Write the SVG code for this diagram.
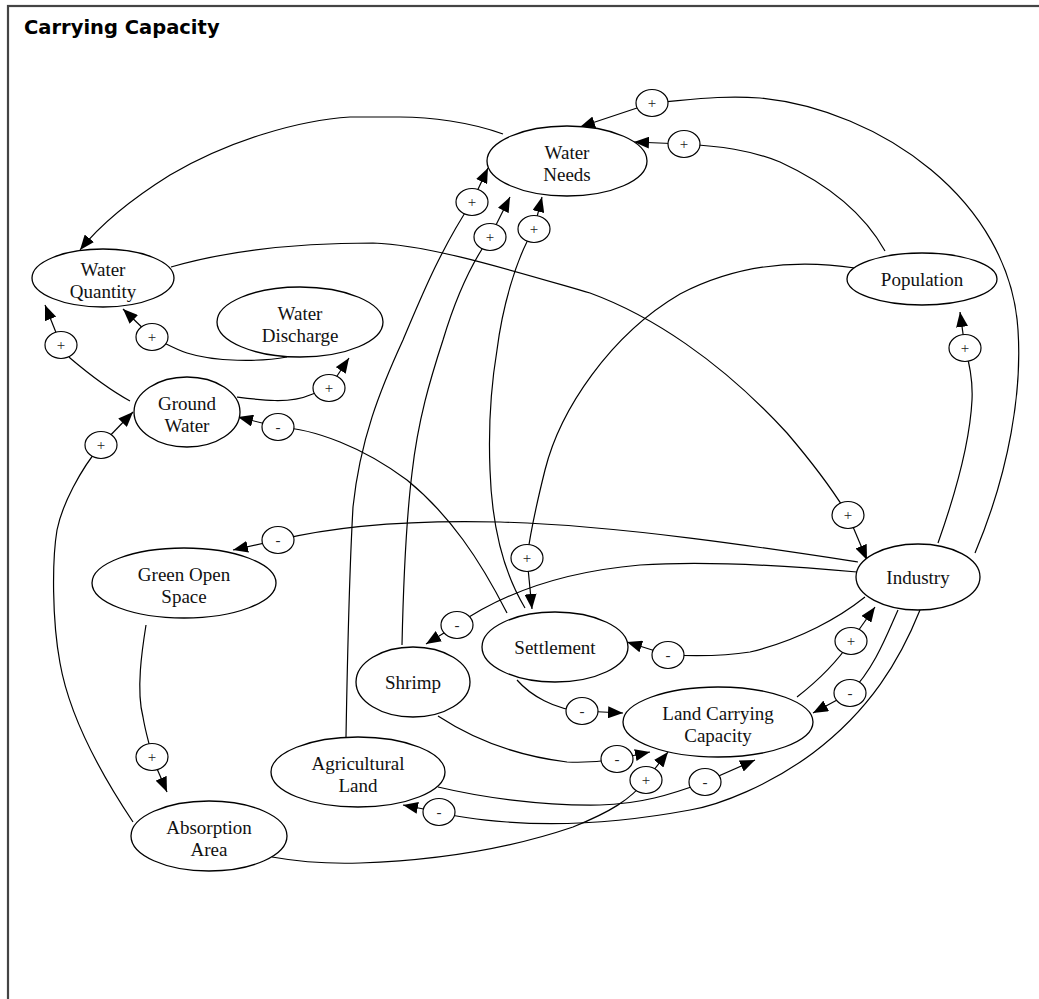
<svg xmlns="http://www.w3.org/2000/svg" width="1039" height="999" viewBox="0 0 1039 999">
<defs>
<style>
.frame{fill:#fff;stroke:#444;stroke-width:2.2}
.title{font-family:"DejaVu Sans",Verdana,sans-serif;font-weight:bold;font-size:19.5px;fill:#000}
.node ellipse{fill:#fff;stroke:#000;stroke-width:1.3}
.node text{font-family:"Liberation Serif","Times New Roman",serif;font-size:19px;fill:#111;text-anchor:middle}
.edge{fill:none;stroke:#000;stroke-width:1.2}
.arr{fill:none;stroke:#000;stroke-width:1.2;marker-end:url(#ah)}
.sign ellipse{fill:#fff;stroke:#000;stroke-width:1.2}
.sign text{font-family:"Liberation Serif","Times New Roman",serif;font-size:15px;fill:#222;text-anchor:middle}
</style>
<marker id="ah" markerUnits="userSpaceOnUse" markerWidth="16" markerHeight="12" refX="15" refY="6" orient="auto">
<path d="M0,0 L15,6 L0,12 Z" fill="#000"/>
</marker>
</defs>
<rect class="frame" x="8" y="6" width="1040" height="1000"/>
<text class="title" x="24" y="34">Carrying Capacity</text>

<g id="connectors">
<!-- 1 Industry -> Water Needs (+) -->
<path class="edge" d="M975,553 C1010,470 1022,390 1018,330 C1010,200 880,110 760,98 C720,95 690,100 652,103"/>
<path class="arr" d="M652,103 L580,127"/>
<!-- 2 Population -> Water Needs (+) -->
<path class="edge" d="M885,251 C865,215 830,185 780,162 C750,150 720,146 684,144"/>
<path class="arr" d="M684,144 L634,142"/>
<!-- 3 Water Needs -> Water Quantity -->
<path class="arr" d="M503,134 C470,122 430,117 400,117 L350,117 C300,120 230,140 170,175 C130,200 100,225 80,250"/>
<!-- 4 Water Quantity -> Industry (+) -->
<path class="edge" d="M171,267 C230,250 300,243 373,243 C430,245 510,270 590,293 C650,315 720,360 787,433 C810,460 830,485 848,515"/>
<path class="arr" d="M848,515 L867,560"/>
<!-- 5 Water Discharge -> Water Quantity (+) -->
<path class="edge" d="M287,357 C260,362 215,362 187,353 C175,349 165,343 152,337"/>
<path class="arr" d="M152,337 L123,309"/>
<!-- 6 Ground Water -> Water Quantity (+) -->
<path class="edge" d="M130,401 C110,390 90,375 70,358 L61,345"/>
<path class="arr" d="M61,345 L45,305"/>
<!-- 7 Ground Water -> Water Discharge (+) -->
<path class="edge" d="M237,397 C260,400 290,404 310,395 L329,388"/>
<path class="arr" d="M329,388 L349,358"/>
<!-- 8 Settlement -> Ground Water (-) -->
<path class="edge" d="M507,613 C480,560 450,515 407,480 C380,460 360,450 340,442 C320,434 300,428 278,427"/>
<path class="arr" d="M278,427 L238,417"/>
<!-- 9 Absorption Area -> Ground Water (+) -->
<path class="edge" d="M133,822 C105,780 70,720 60,663 C52,620 52,560 57,530 C62,505 80,470 101,445"/>
<path class="arr" d="M101,445 L133,412"/>
<!-- 10 Industry -> Green Open Space (-) -->
<path class="edge" d="M858,562 C780,550 620,525 500,522 C420,520 340,525 278,540"/>
<path class="arr" d="M278,540 L233,550"/>
<!-- 11 Green Open Space -> Absorption Area (+) -->
<path class="edge" d="M146,625 C142,650 136,690 143,717 C146,735 150,745 152,757"/>
<path class="arr" d="M152,757 L167,792"/>
<!-- 12 Population -> Settlement (+) -->
<path class="edge" d="M855,268 C790,258 730,268 680,294 C610,335 560,410 545,470 C535,510 530,535 527,558"/>
<path class="arr" d="M527,558 L532,609"/>
<!-- 13 Settlement -> Water Needs (+) -->
<path class="edge" d="M525,608 C505,575 492,530 490,470 C488,420 492,380 497,350 C502,310 515,260 534,229"/>
<path class="arr" d="M534,229 L542,197"/>
<!-- 14 Shrimp -> Water Needs (+) -->
<path class="edge" d="M402,645 C403,600 405,530 412,473 C418,420 430,380 443,340 C455,300 470,265 490,237"/>
<path class="arr" d="M490,237 L510,197"/>
<!-- 15 Agricultural Land -> Water Needs (+) -->
<path class="edge" d="M346,737 C347,680 350,560 353,507 C360,440 380,390 403,340 C420,300 440,250 472,202"/>
<path class="arr" d="M472,202 L488,168"/>
<!-- 16 Industry -> Settlement (-) -->
<path class="edge" d="M865,597 C840,617 800,640 750,652 C720,657 690,656 668,655"/>
<path class="arr" d="M668,655 L627,642"/>
<!-- 17 Industry -> Shrimp (-) -->
<path class="edge" d="M857,572 C780,565 700,561 640,565 C560,572 500,595 457,625"/>
<path class="arr" d="M457,625 L426,644"/>
<!-- 18 Land Carrying Capacity -> Industry (+) -->
<path class="edge" d="M797,697 C815,683 835,665 851,641"/>
<path class="arr" d="M851,641 L875,607"/>
<!-- 19 Industry -> Land Carrying Capacity (-) -->
<path class="edge" d="M898,610 C888,632 875,668 850,693"/>
<path class="arr" d="M850,693 L813,713"/>
<!-- 20 Industry -> Agricultural Land (-) -->
<path class="edge" d="M920,610 C900,660 870,710 813,753 C770,785 720,805 690,810 C620,823 560,826 507,822 C480,820 460,818 439,812"/>
<path class="arr" d="M439,812 L403,805"/>
<!-- 21 Settlement -> Land Carrying Capacity (-) -->
<path class="edge" d="M517,680 C530,695 555,710 582,711"/>
<path class="arr" d="M582,711 L623,713"/>
<!-- 22 Shrimp -> Land Carrying Capacity (-) -->
<path class="edge" d="M438,716 C470,737 510,755 567,762 C590,763 605,761 617,759"/>
<path class="arr" d="M617,759 L650,752"/>
<!-- 23 Absorption Area -> Land Carrying Capacity (+) -->
<path class="edge" d="M272,857 C300,862 330,864 360,863 C450,860 520,845 573,827 C610,812 630,800 646,780"/>
<path class="arr" d="M646,780 L668,752"/>
<!-- 24 Agricultural Land -> Land Carrying Capacity (-) -->
<path class="edge" d="M438,787 C480,797 540,806 600,805 C640,804 670,795 705,782"/>
<path class="arr" d="M705,782 L755,760"/>
<!-- 25 Industry -> Population (+) -->
<path class="edge" d="M938,543 C955,495 970,440 972,400 C973,380 970,365 965,348"/>
<path class="arr" d="M965,348 L960,312"/>

<g class="sign">
<ellipse cx="652" cy="103" rx="16" ry="13.5"/><text x="652" y="108">+</text>
<ellipse cx="684" cy="144" rx="16" ry="13.5"/><text x="684" y="149">+</text>
<ellipse cx="848" cy="515" rx="16" ry="13.5"/><text x="848" y="520">+</text>
<ellipse cx="152" cy="337" rx="16" ry="13.5"/><text x="152" y="342">+</text>
<ellipse cx="61" cy="345" rx="16" ry="13.5"/><text x="61" y="350">+</text>
<ellipse cx="329" cy="388" rx="16" ry="13.5"/><text x="329" y="393">+</text>
<ellipse cx="278" cy="427" rx="16" ry="13.5"/><text x="278" y="432">-</text>
<ellipse cx="101" cy="445" rx="16" ry="13.5"/><text x="101" y="450">+</text>
<ellipse cx="278" cy="540" rx="16" ry="13.5"/><text x="278" y="545">-</text>
<ellipse cx="152" cy="757" rx="16" ry="13.5"/><text x="152" y="762">+</text>
<ellipse cx="527" cy="558" rx="16" ry="13.5"/><text x="527" y="563">+</text>
<ellipse cx="534" cy="229" rx="16" ry="13.5"/><text x="534" y="234">+</text>
<ellipse cx="490" cy="237" rx="16" ry="13.5"/><text x="490" y="242">+</text>
<ellipse cx="472" cy="202" rx="16" ry="13.5"/><text x="472" y="207">+</text>
<ellipse cx="668" cy="655" rx="16" ry="13.5"/><text x="668" y="660">-</text>
<ellipse cx="457" cy="625" rx="16" ry="13.5"/><text x="457" y="630">-</text>
<ellipse cx="851" cy="641" rx="16" ry="13.5"/><text x="851" y="646">+</text>
<ellipse cx="850" cy="693" rx="16" ry="13.5"/><text x="850" y="698">-</text>
<ellipse cx="439" cy="812" rx="16" ry="13.5"/><text x="439" y="817">-</text>
<ellipse cx="582" cy="711" rx="16" ry="13.5"/><text x="582" y="716">-</text>
<ellipse cx="617" cy="759" rx="16" ry="13.5"/><text x="617" y="764">-</text>
<ellipse cx="646" cy="780" rx="16" ry="13.5"/><text x="646" y="785">+</text>
<ellipse cx="705" cy="782" rx="16" ry="13.5"/><text x="705" y="787">-</text>
<ellipse cx="965" cy="348" rx="16" ry="13.5"/><text x="965" y="353">+</text>
</g>
</g>

<g id="water-needs" class="node"><ellipse cx="567" cy="161" rx="80" ry="35"/><text x="567" y="159">Water</text><text x="567" y="181">Needs</text></g>
<g id="water-quantity" class="node"><ellipse cx="103" cy="278" rx="71" ry="29"/><text x="103" y="276">Water</text><text x="103" y="298">Quantity</text></g>
<g id="water-discharge" class="node"><ellipse cx="300" cy="322" rx="83" ry="35"/><text x="300" y="320">Water</text><text x="300" y="342">Discharge</text></g>
<g id="ground-water" class="node"><ellipse cx="187" cy="412" rx="53" ry="35"/><text x="187" y="410">Ground</text><text x="187" y="432">Water</text></g>
<g id="population" class="node"><ellipse cx="922" cy="279" rx="75" ry="26"/><text x="922" y="286">Population</text></g>
<g id="industry" class="node"><ellipse cx="918" cy="577" rx="62" ry="33"/><text x="918" y="584">Industry</text></g>
<g id="green-open-space" class="node"><ellipse cx="184" cy="583" rx="92" ry="35"/><text x="184" y="581">Green Open</text><text x="184" y="603">Space</text></g>
<g id="settlement" class="node"><ellipse cx="555" cy="647" rx="73" ry="35"/><text x="555" y="654">Settlement</text></g>
<g id="shrimp" class="node"><ellipse cx="413" cy="682" rx="57" ry="35"/><text x="413" y="689">Shrimp</text></g>
<g id="agricultural-land" class="node"><ellipse cx="358" cy="772" rx="87" ry="35"/><text x="358" y="770">Agricultural</text><text x="358" y="792">Land</text></g>
<g id="land-carrying-capacity" class="node"><ellipse cx="718" cy="722" rx="95" ry="35"/><text x="718" y="720">Land Carrying</text><text x="718" y="742">Capacity</text></g>
<g id="absorption-area" class="node"><ellipse cx="209" cy="836" rx="78" ry="35"/><text x="209" y="834">Absorption</text><text x="209" y="856">Area</text></g>
</svg>
